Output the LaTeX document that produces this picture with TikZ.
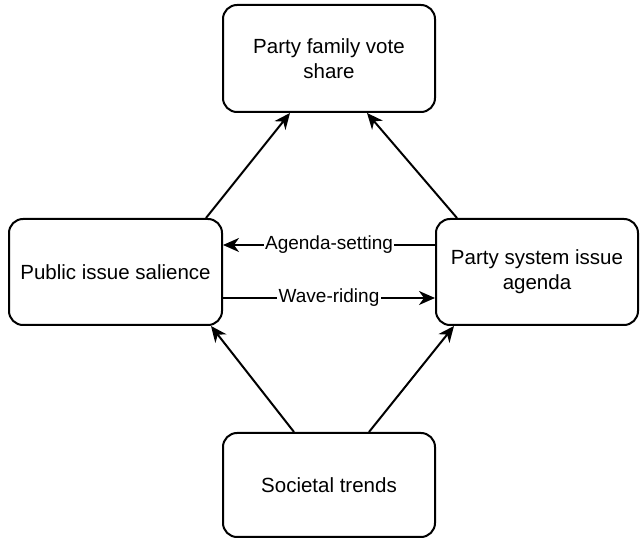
\documentclass[tikz,border=0pt]{standalone}
\usepackage{fontspec}
\setmainfont{Liberation Sans}
\usetikzlibrary{arrows.meta}
\begin{document}
\begin{tikzpicture}[x=1pt,y=-1pt,
  box/.style={draw=black, line width=2pt, rounded corners=14pt, align=center,
    inner sep=0pt, font=\fontsize{20.5}{25}\selectfont},
  conn/.style={line width=2pt, -{Stealth[length=16pt,width=14pt,inset=5pt]}},
  lbl/.style={fill=white, inner sep=1.5pt, font=\fontsize{19}{22}\selectfont}]
\useasboundingbox (0,0) rectangle (641,540);
\node[box, minimum width=212pt, minimum height=107pt] (T) at (329,58.5) {Party family vote\\share};
\node[box, minimum width=213pt, minimum height=106pt] (L) at (115.5,272) {Public issue salience};
\node[box, minimum width=202pt, minimum height=106pt] (R) at (537,272) {Party system issue\\agenda};
\node[box, minimum width=212pt, minimum height=104pt] (B) at (329,485) {Societal trends};
\draw[conn] ([xshift=90.5pt]L.north) -- ([xshift=-39pt]T.south);
\draw[conn] ([xshift=-80pt]R.north) -- ([xshift=38pt]T.south);
\draw[conn] ([xshift=-35pt]B.north) -- ([xshift=95.5pt]L.south);
\draw[conn] ([xshift=40pt]B.north) -- ([xshift=-83pt]R.south);
\draw[conn] ([yshift=27pt]R.west) -- node[lbl] {Agenda-setting} ([yshift=27pt]L.east);
\draw[conn] ([yshift=-26pt]L.east) -- node[lbl] {Wave-riding} ([yshift=-26pt]R.west);
\end{tikzpicture}
\end{document}
